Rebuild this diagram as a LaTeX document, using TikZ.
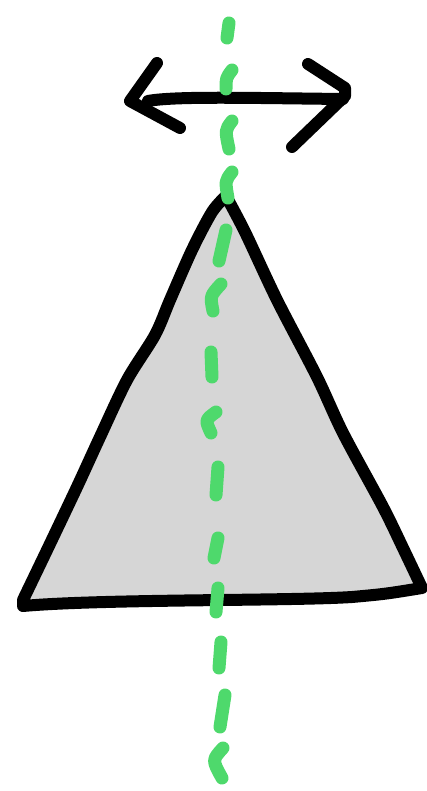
\documentclass[tikz,border=0pt]{standalone}
\definecolor{axisgreen}{RGB}{78,217,108}
\definecolor{trigray}{RGB}{214,214,214}
\tikzset{
  ink/.style={line width=12pt, line cap=round, line join=round, draw=black},
  gdash/.style={line width=13pt, line cap=round, line join=round, draw=axisgreen},
}
\begin{document}
\begin{tikzpicture}[x=1pt,y=-1pt]
\useasboundingbox (0,0) rectangle (427,791);
% triangle
\filldraw[ink, fill=trigray]
  (23,606) .. controls (100,599) and (290,601) .. (352,597)
  .. controls (385,594) .. (422,588)
  -- plot[smooth, tension=0.5] coordinates {(422,588) (403,548) (383,507) (343,433) (317,377) (277,300) (245,232) (226,196)}
  -- plot[smooth, tension=0.5] coordinates {(226,196) (212,212) (192,250) (170,300) (155,335) (127,380) (100,437) (77,487) (48,548) (23,600)}
  -- cycle;
% double arrow
\draw[ink] (148,101) .. controls (175,96) and (250,98) .. (343,99);
\draw[ink] (157,63) -- (130,101) -- (180,128);
\draw[ink] (308,64) -- (345,88) -- (345,96) -- (292,147);
% green dashed axis
\draw[gdash] (229,23) -- (227,38);
\draw[gdash] (232,70) .. controls (226,78) .. (226,89);
\draw[gdash] (232,121) .. controls (225,130) .. (229,149);
\draw[gdash] (232,172) .. controls (225,181) .. (228,198);
\draw[gdash] (226,230) -- (219,261);
\draw[gdash] (221,284) .. controls (210,296) .. (213,311);
\draw[gdash] (211,352) -- (212,377);
\draw[gdash] (216,412) .. controls (205,420) .. (211,433);
\draw[gdash] (218,467) -- (216,495);
\draw[gdash] (218,538) -- (214,558);
\draw[gdash] (218,588) -- (216,612);
\draw[gdash] (221,642) -- (219,668);
\draw[gdash] (225,695) -- (220,727);
\draw[gdash] (223,748) .. controls (212,760) .. (222,778);
\end{tikzpicture}
\end{document}
